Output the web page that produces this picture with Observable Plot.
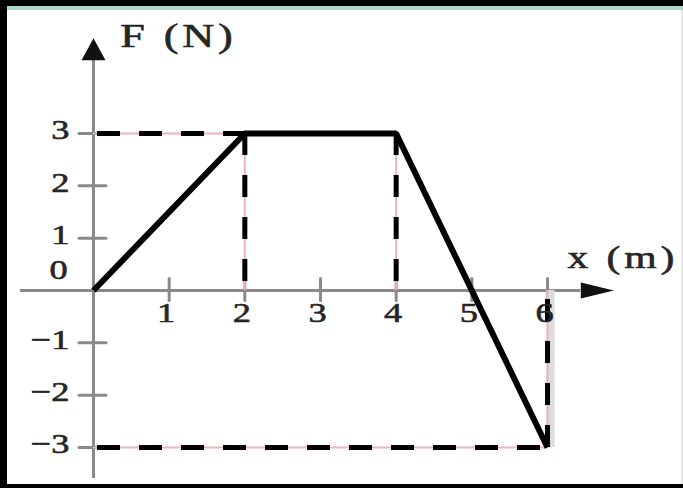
<!DOCTYPE html>
<html>
<head>
<meta charset="utf-8">
<script src="https://cdn.jsdelivr.net/npm/d3@7"></script>
<script src="https://cdn.jsdelivr.net/npm/@observablehq/plot@0.6"></script>
<style>
  html, body { margin: 0; padding: 0; background: #fff; overflow: hidden; }
  #frame { position: relative; width: 683px; height: 488px; overflow: hidden; background: #fff; }
  #frame svg { display: block; }
  .edge { position: absolute; }
</style>
</head>
<body>
<div id="frame"></div>
<script>
// Variable force F(x) acting over a displacement x
const positions = [0, 2, 4, 6];          // x (m)
const forces = [0, 3, 3, -3];            // F (N)
const xTicks = [1, 2, 3, 4, 5, 6];
const yTicks = [-3, -2, -1, 1, 2, 3];
const yTickLabels = ["−3", "−2", "−1", "1", "2", "3"];
const originLabel = "0";
const xLabel = "x (m)";
const yLabel = "F (N)";

const points = positions.map((x, i) => ({x, F: forces[i]}));
// vertical guides drop from each vertex to the x axis
const vGuides = points.filter(p => p.x !== 0);
// horizontal guides run from the y axis to the first vertex reaching each extreme
const hGuides = [d3.max(forces), d3.min(forces)].map(f => points.find(p => p.F === f));
const lastPoint = points[points.length - 1];

// axis extents (data units) beyond the plotted range
const xAxisStart = -0.965, xAxisEnd = 6.44;
const yAxisStart = -3.59, yAxisEnd = 4.40;

const axisGray = "#8a8a8a";
const ink = "#262626";
const serif = "Liberation Serif, Times New Roman, serif";

// filled arrowheads pointing "up" in the vector's own frame
const headShape = (half) => ({
  draw(context, l) {
    context.moveTo(0, -l);
    context.lineTo(-half, 0);
    context.lineTo(half, 0);
    context.closePath();
  }
});
// short straight stroke used for tick marks
const tickShape = {
  draw(context, l) {
    context.moveTo(0, 0);
    context.lineTo(0, -l);
  }
};

const textStyle = {fontFamily: serif, fill: ink, stroke: ink, strokeWidth: 0.6};

const chart = Plot.plot({
  width: 683,
  height: 488,
  margin: 0,
  x: {domain: [0, 6], range: [93, 547], axis: null},
  y: {domain: [-3, 3], range: [447, 133], axis: null},
  style: {background: "transparent", overflow: "visible"},
  marks: [
    // axes
    Plot.ruleY([0], {x1: xAxisStart, x2: xAxisEnd, stroke: axisGray, strokeWidth: 3}),
    Plot.ruleX([0], {y1: yAxisStart, y2: yAxisEnd, stroke: axisGray, strokeWidth: 3}),
    Plot.vector(xTicks, {x: d => d, y: 0, length: 22, rotate: 0, anchor: "middle", dy: -1,
      shape: tickShape, stroke: axisGray, strokeWidth: 3}),
    Plot.vector(yTicks, {x: 0, y: d => d, length: 27, rotate: 90, anchor: "middle", dx: -1,
      shape: tickShape, stroke: axisGray, strokeWidth: 3}),
    Plot.vector([0], {x: xAxisEnd, y: 0, length: 33, rotate: 90, anchor: "start",
      shape: headShape(8), fill: "#111", stroke: "none"}),
    Plot.vector([0], {x: 0, y: yAxisEnd, length: 22, rotate: 0, anchor: "start",
      shape: headShape(12), fill: "#111", stroke: "none"}),

    // faint shadow beside the last drop line
    Plot.ruleX([lastPoint], {x: "x", y1: 0, y2: "F", dx: 3, stroke: "#dcdcdc", strokeWidth: 8}),

    // pink hairlines under the dashed guides
    Plot.ruleX(vGuides, {x: "x", y1: "F", y2: 0, stroke: "#efb3bb", strokeWidth: 2}),
    Plot.ruleY(hGuides, {y: "F", x1: 0, x2: "x", stroke: "#efb3bb", strokeWidth: 2}),

    // dashed guides
    Plot.ruleX(vGuides, {x: "x", y1: "F", y2: 0, stroke: "#000", strokeWidth: 5, strokeDasharray: "22 20"}),
    Plot.ruleY(hGuides, {y: "F", x1: 0, x2: "x", stroke: "#000", strokeWidth: 5, strokeDasharray: "23 19", dx: 4}),

    // the force curve
    Plot.line(points, {x: "x", y: "F", stroke: "#000", strokeWidth: 6, strokeLinejoin: "miter", strokeLinecap: "butt"}),

    // tick labels
    Plot.text(xTicks, {x: d => d, y: 0, text: d => String(d), dx: -3, dy: 23,
      fontSize: 28, ...textStyle}),
    Plot.text(yTicks, {x: 0, y: d => d, text: (d, i) => yTickLabels[i], textAnchor: "end",
      dx: -24, dy: -3, fontSize: 28, ...textStyle}),
    Plot.text([originLabel], {x: 0, y: 0, text: d => d, dx: -35, dy: -20,
      fontSize: 28, ...textStyle}),

    // axis titles
    Plot.text([yLabel], {x: 0, y: yAxisEnd, text: d => d, dx: 85, dy: -24,
      fontSize: 34, ...textStyle}),
    Plot.text([xLabel], {x: xAxisEnd, y: 0, text: d => d, dx: 42, dy: -33,
      fontSize: 32, ...textStyle})
  ]
});

// widen the serif glyphs around their anchor points
chart.querySelectorAll("text").forEach(t => {
  const tr = t.getAttribute("transform");
  if (tr) t.setAttribute("transform", tr + " scale(1.3,1)");
  if (t.textContent === xLabel || t.textContent === yLabel) t.style.letterSpacing = "3px";
});

const frame = document.getElementById("frame");
frame.appendChild(chart);

// page border strips
[
  {left: 0, top: 0, width: 683, height: 6, background: "#000"},
  {left: 0, top: 6, width: 683, height: 4, background: "#a9d6cf"},
  {left: 0, top: 0, width: 7, height: 488, background: "#000"},
  {left: 0, top: 484, width: 683, height: 4, background: "#000"},
  {left: 681, top: 10, width: 2, height: 474, background: "#e6e6e6"}
].forEach(s => {
  const d = document.createElement("div");
  d.className = "edge";
  Object.entries(s).forEach(([k, v]) => d.style[k] = typeof v === "number" ? v + "px" : v);
  frame.appendChild(d);
});
</script>
</body>
</html>
